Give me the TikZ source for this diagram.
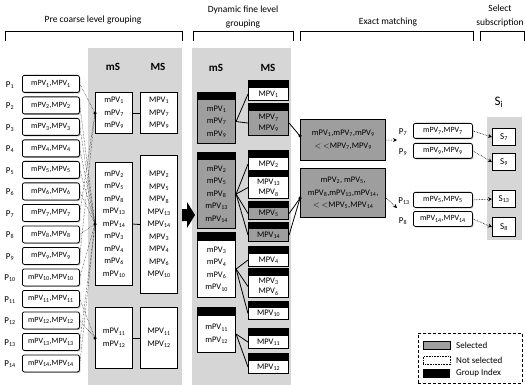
\documentclass[tikz,border=0pt]{standalone}
\usepackage{fontspec}
\setmainfont{Carlito}
\usetikzlibrary{calc,shadows,arrows.meta}
\newcommand\mpv[1]{mPV\textsubscript{#1}}
\newcommand\Mpv[1]{MPV\textsubscript{#1}}
\tikzset{
  bgarea/.style={fill=black!16, draw=none},
  hdr/.style={font=\fontsize{9.5}{14}\selectfont, inner sep=0pt, align=center},
  bracket/.style={line width=1pt},
  colh/.style={font=\fontsize{11}{12}\selectfont\bfseries, inner sep=0pt},
  grp/.style={draw, line width=1.1pt, fill=white, inner sep=0pt, anchor=north west, align=center, font=\fontsize{8.5}{12.5}\selectfont},
  selbox/.style={grp, fill=black!38},
  idx/.style={draw, fill=black, line width=1pt, inner sep=0pt, anchor=north west},
  pbox/.style={draw, rounded corners=2pt, line width=0.8pt, fill=white, inner sep=0pt, minimum width=57pt, minimum height=17pt, anchor=north west, font=\fontsize{8}{9}\selectfont, drop shadow={shadow xshift=1pt, shadow yshift=-1pt, fill=black!55}},
  plabel/.style={font=\fontsize{9}{10}\selectfont, inner sep=0pt},
  feed/.style={line width=0.45pt, densely dotted},
  link/.style={line width=0.8pt},
  dotend/.style={circle, fill=black, inner sep=0pt, minimum size=3.5pt},
  darr/.style={line width=0.6pt, densely dotted, -{Stealth[length=4pt,width=4pt]}},
  sbox/.style={draw, line width=1.1pt, fill=white, inner sep=0pt, anchor=north west, minimum width=23pt, minimum height=17pt, font=\fontsize{9}{10}\selectfont},
  legtxt/.style={font=\fontsize{9}{10}\selectfont, inner sep=0pt, anchor=west}
}
\begin{document}
\begin{tikzpicture}[x=1pt,y=-1pt]
\useasboundingbox (0,0) rectangle (525,385);
% background areas
\fill[bgarea] (88,48) rectangle (182,385);
\fill[bgarea] (192,48) rectangle (291,385);
\fill[bgarea] (487,117) rectangle (522,240);
% headers
\node[hdr] (h1) at (93,20) {Pre coarse level grouping};
\node[hdr] (h2) at (243,17.5) {Dynamic fine level\\grouping};
\node[hdr] (h3) at (388,22) {Exact matching};
\node[hdr] (h4) at (500,16) {Select\\subscription};
\draw[bracket] (5,41) -- (5,32) -- (182,32) -- (182,41);
\draw[bracket] (193,41) -- (193,32) -- (293,32) -- (293,41);
\draw[bracket] (300,41) -- (300,32) -- (473,32) -- (473,41);
\draw[bracket] (480,41) -- (480,32) -- (524,32) -- (524,41);
% column heads
\node[colh] (c1) at (113,67) {mS};
\node[colh] (c2) at (158,67) {MS};
\node[colh] (c3) at (216,68) {mS};
\node[colh] (c4) at (268,68) {MS};
% P list
\foreach \i in {1,...,14}{
  \pgfmathsetmacro\ty{75+21.5*(\i-1)}
  \node[pbox] (p\i) at (22,\ty) {\mpv{\i},\Mpv{\i}};
  \node[plabel] (pl\i) at (10,{\ty+10}) {P\textsubscript{\i}};
}
% pre coarse groups
\node[grp, minimum width=37pt, minimum height=41pt] (g1m) at (95,92) {\mpv{1}\\\mpv{7}\\\mpv{9}};
\node[grp, minimum width=37pt, minimum height=41pt] (g1M) at (140,92) {\Mpv{1}\\\Mpv{7}\\\Mpv{9}};
\node[grp, minimum width=37pt, minimum height=123pt] (g2m) at (95,162) {\mpv{2}\\\mpv{5}\\\mpv{8}\\\mpv{13}\\\mpv{14}\\\mpv{3}\\\mpv{4}\\\mpv{6}\\\mpv{10}};
\node[grp, minimum width=37pt, minimum height=138pt] (g2M) at (140,155) {\Mpv{2}\\\Mpv{5}\\\Mpv{8}\\\Mpv{13}\\\Mpv{14}\\\Mpv{3}\\\Mpv{4}\\\Mpv{6}\\\Mpv{10}};
\node[grp, minimum width=37pt, minimum height=61pt] (g3m) at (95,307) {\mpv{11}\\\mpv{12}};
\node[grp, minimum width=37pt, minimum height=61pt] (g3M) at (140,307) {\Mpv{11}\\\Mpv{12}};
\draw[link] (g1m.east) -- (g1M.west);
\draw[link] (g2m.east) -- (g2M.west);
\draw[link] (g3m.east) -- (g3M.west);
\node[dotend] (d1) at (g1m.west) {};
\node[dotend] (d2) at (g2m.west) {};
\node[dotend] (d3) at (g3m.west) {};
\foreach \i in {1,7,9} \draw[feed] (p\i.east) -- (d1.center);
\foreach \i in {2,3,4,5,6,8,10,13,14} \draw[feed] (p\i.east) -- (d2.center);
\foreach \i in {11,12} \draw[feed] (p\i.east) -- (d3.center);
% big arrow
\fill (182,209) -- (187,209) -- (187,202) -- (195,215) -- (187,228) -- (187,221) -- (182,221) -- cycle;
% fine level mS
\node[selbox, minimum width=38pt, minimum height=44pt] (f1m) at (197,99) {\mpv{1}\\\mpv{7}\\\mpv{9}};
\node[idx, minimum width=38pt, minimum height=7pt] (f1h) at (197,92) {};
\node[selbox, minimum width=38pt, minimum height=69pt] (f2m) at (197,159) {\mpv{2}\\\mpv{5}\\\mpv{8}\\\mpv{13}\\\mpv{14}};
\node[idx, minimum width=38pt, minimum height=7pt] (f2h) at (197,152) {};
\node[grp, minimum width=38pt, minimum height=57pt] (f3m) at (197,240) {\mpv{3}\\\mpv{4}\\\mpv{6}\\\mpv{10}};
\node[idx, minimum width=38pt, minimum height=8pt] (f3h) at (197,232) {};
\node[grp, minimum width=38pt, minimum height=37pt] (f4m) at (197,315) {\mpv{11}\\\mpv{12}};
\node[idx, minimum width=38pt, minimum height=8pt] (f4h) at (197,307) {};
% fine level MS
\node[grp, minimum width=40pt, minimum height=13pt] (mA) at (248,87) {\Mpv{1}};
\node[idx, minimum width=40pt, minimum height=7pt] (hA) at (248,80) {};
\node[selbox, minimum width=40pt, minimum height=25pt, font=\fontsize{8.5}{10.5}\selectfont] (mB) at (248,110) {\Mpv{7}\\\Mpv{9}};
\node[idx, minimum width=40pt, minimum height=7pt] (hB) at (248,103) {};
\node[grp, minimum width=40pt, minimum height=13pt] (mC) at (248,157) {\Mpv{2}};
\node[idx, minimum width=40pt, minimum height=7pt] (hC) at (248,150) {};
\node[grp, minimum width=40pt, minimum height=22pt, font=\fontsize{8.5}{10.5}\selectfont] (mD) at (248,176) {\Mpv{13}\\\Mpv{8}};
\node[idx, minimum width=40pt, minimum height=6pt] (hD) at (248,170) {};
\node[selbox, minimum width=40pt, minimum height=12pt] (mE) at (248,207) {\Mpv{5}};
\node[idx, minimum width=40pt, minimum height=6pt] (hE) at (248,201) {};
\node[selbox, minimum width=40pt, minimum height=13pt] (mF) at (248,228) {\Mpv{14}};
\node[idx, minimum width=40pt, minimum height=6pt] (hF) at (248,222) {};
\node[grp, minimum width=40pt, minimum height=13pt] (mG) at (248,253) {\Mpv{4}};
\node[idx, minimum width=40pt, minimum height=7pt] (hG) at (248,246) {};
\node[grp, minimum width=40pt, minimum height=22pt, font=\fontsize{8.5}{10.5}\selectfont] (mH) at (248,275) {\Mpv{3}\\\Mpv{6}};
\node[idx, minimum width=40pt, minimum height=7pt] (hH) at (248,268) {};
\node[grp, minimum width=40pt, minimum height=12pt] (mI) at (248,307) {\Mpv{10}};
\node[idx, minimum width=40pt, minimum height=6pt] (hI) at (248,301) {};
\node[grp, minimum width=40pt, minimum height=13pt] (mJ) at (248,335) {\Mpv{11}};
\node[idx, minimum width=40pt, minimum height=7pt] (hJ) at (248,328) {};
\node[grp, minimum width=40pt, minimum height=13pt] (mK) at (248,360) {\Mpv{12}};
\node[idx, minimum width=40pt, minimum height=7pt] (hK) at (248,353) {};
% fine links
\foreach \t in {mA,mB} \draw[link] (f1m.east) -- (\t.west);
\foreach \t in {mC,mD,mE,mF} \draw[link] (f2m.east) -- (\t.west);
\foreach \t in {mG,mH,mI} \draw[link] (f3m.east) -- (\t.west);
\foreach \t in {mJ,mK} \draw[link] (f4m.east) -- (\t.west);
% exact matching
\node[selbox, line width=1.4pt, minimum width=85pt, minimum height=41pt, font=\fontsize{8.5}{13}\selectfont] (e1) at (300,119) {\mpv{1},\mpv{7},\mpv{9}\\$<$ $<$\Mpv{7},\Mpv{9}};
\node[selbox, line width=1.4pt, minimum width=85pt, minimum height=49pt, font=\fontsize{8.5}{12.5}\selectfont] (e2) at (300,168) {\mpv{2}, \mpv{5},\\\mpv{8},\mpv{13},\mpv{14},\\$<$ $<$\Mpv{5},\Mpv{14}};
\node[dotend] (ed1) at ($(e1.north west)!0.4!(e1.south west)$) {};
\node[dotend] (ed2) at ($(e2.north west)!0.6!(e2.south west)$) {};
\draw[link] (mB.east) -- (ed1.center);
\draw[link] (mE.east) -- (ed2.center);
\draw[link] (mF.east) -- (ed2.center);
\coordinate (a1) at (397,140);
\coordinate (a2) at (397,208);
\draw[darr] (e1.east) -- (a1);
\draw[darr] ($(e2.north east)!0.6!(e2.south east)$) -- (a2);
% matched subscriptions
\node[pbox, minimum width=59pt, minimum height=15pt] (r7) at (413,123) {\mpv{7},\Mpv{7}};
\node[pbox, minimum width=59pt, minimum height=15pt] (r9) at (413,143) {\mpv{9},\Mpv{9}};
\node[pbox, minimum width=59pt, minimum height=15pt] (r13) at (413,192) {\mpv{5},\Mpv{5}};
\node[pbox, minimum width=59pt, minimum height=15pt] (r8) at (413,211) {\mpv{14},\Mpv{14}};
\node[plabel] (rl7) at (403,132) {P\textsubscript{7}};
\node[plabel] (rl9) at (403,152) {P\textsubscript{9}};
\node[plabel] (rl13) at (404,201) {P\textsubscript{13}};
\node[plabel] (rl8) at (403,221) {P\textsubscript{8}};
% S column
\node[font=\fontsize{13}{14}\selectfont, inner sep=0pt] (si) at (499,102) {S\textsubscript{i}};
\node[sbox] (s7) at (492,128) {S\textsubscript{7}};
\node[sbox] (s9) at (492,153) {S\textsubscript{9}};
\node[sbox] (s13) at (492,190) {S\textsubscript{13}};
\node[sbox, minimum height=19pt] (s8) at (492,217) {S\textsubscript{8}};
\draw[darr] (r7.east) -- (s7.west);
\draw[darr] (r9.east) -- (s9.west);
\draw[darr] (r13.east) -- (s13.west);
\draw[darr] (r8.east) -- (s8.west);
% legend
\node[draw, densely dashed, line width=0.5pt, minimum width=104pt, minimum height=50pt, anchor=north west, inner sep=0pt] (leg) at (418,333) {};
\node[draw, fill=black!38, line width=0.6pt, minimum width=27pt, minimum height=8pt, inner sep=0pt, anchor=north west] (ls) at (423,341) {};
\node[draw, densely dotted, fill=white, line width=0.6pt, minimum width=27pt, minimum height=8pt, inner sep=0pt, anchor=north west] (ln) at (423,356) {};
\node[fill=black, minimum width=27pt, minimum height=9pt, inner sep=0pt, anchor=north west] (lg) at (423,369) {};
\node[legtxt] (lts) at (456,345) {Selected};
\node[legtxt] (ltn) at (456,360) {Not selected};
\node[legtxt] (ltg) at (456,373) {Group Index};
\end{tikzpicture}
\end{document}
